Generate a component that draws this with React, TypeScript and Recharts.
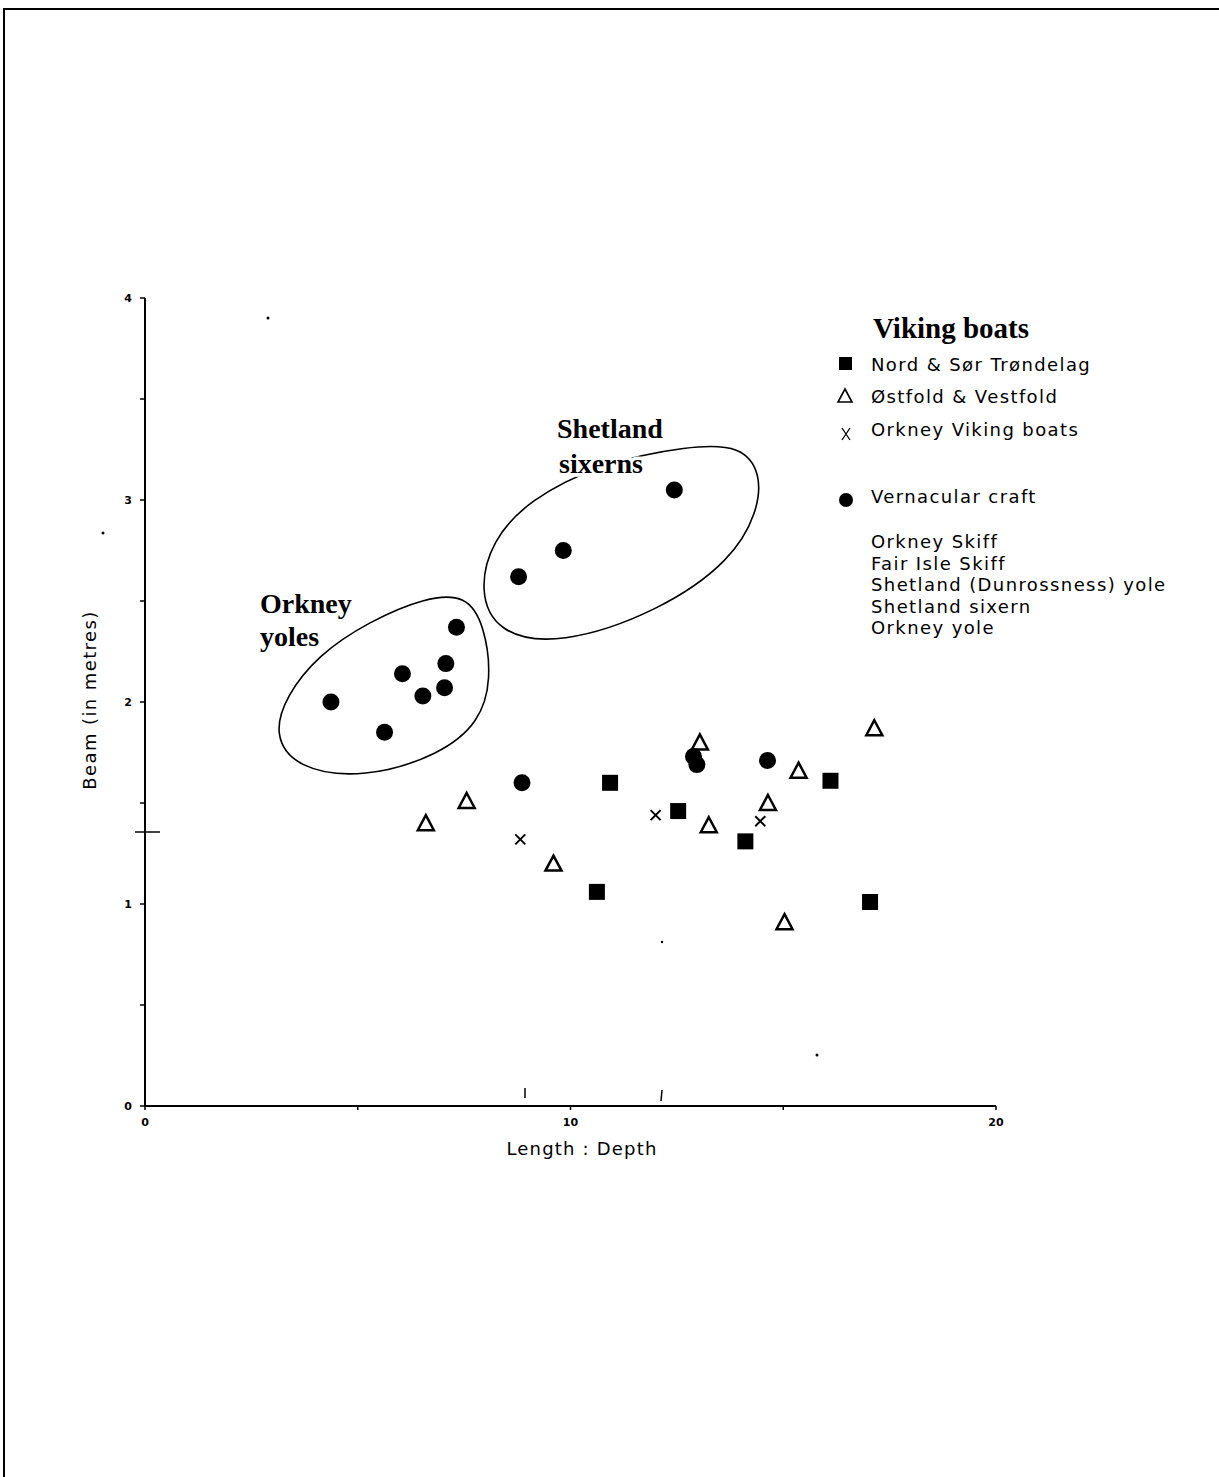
import { ComposedChart, Scatter, Line, XAxis, YAxis, Legend } from "recharts";

// Viking boats
const trondelag = [
  { x: 10.93, y: 1.6 },
  { x: 10.62, y: 1.06 },
  { x: 12.53, y: 1.46 },
  { x: 14.11, y: 1.31 },
  { x: 16.11, y: 1.61 },
  { x: 17.04, y: 1.01 },
];

const ostfold = [
  { x: 6.6, y: 1.4 },
  { x: 7.56, y: 1.51 },
  { x: 9.6, y: 1.2 },
  { x: 13.04, y: 1.8 },
  { x: 13.25, y: 1.39 },
  { x: 14.64, y: 1.5 },
  { x: 15.36, y: 1.66 },
  { x: 15.03, y: 0.91 },
  { x: 17.14, y: 1.87 },
];

const orkneyViking = [
  { x: 8.82, y: 1.32 },
  { x: 12.0, y: 1.44 },
  { x: 14.46, y: 1.41 },
];

// Vernacular craft
const vernacular = [
  { x: 4.37, y: 2.0 },
  { x: 5.63, y: 1.85 },
  { x: 6.05, y: 2.14 },
  { x: 6.53, y: 2.03 },
  { x: 7.04, y: 2.07 },
  { x: 7.07, y: 2.19 },
  { x: 7.32, y: 2.37 },
  { x: 8.78, y: 2.62 },
  { x: 9.83, y: 2.75 },
  { x: 12.44, y: 3.05 },
  { x: 8.86, y: 1.6 },
  { x: 12.89, y: 1.73 },
  { x: 12.97, y: 1.69 },
  { x: 14.63, y: 1.71 },
];

const vernacularTypes = [
  "Orkney Skiff",
  "Fair Isle Skiff",
  "Shetland (Dunrossness) yole",
  "Shetland sixern",
  "Orkney yole",
];

// hand drawn group outlines
const orkneyOutline = [
  { x: 6.61, y: 2.52 },
  { x: 7.55, y: 2.53 },
  { x: 7.98, y: 2.38 },
  { x: 8.15, y: 2.11 },
  { x: 7.86, y: 1.9 },
  { x: 6.95, y: 1.74 },
  { x: 5.15, y: 1.62 },
  { x: 3.55, y: 1.67 },
  { x: 3.02, y: 1.84 },
  { x: 3.32, y: 2.03 },
  { x: 4.05, y: 2.23 },
  { x: 5.27, y: 2.4 },
];

const shetlandOutline = [
  { x: 12.8, y: 3.27 },
  { x: 14.02, y: 3.27 },
  { x: 14.48, y: 3.13 },
  { x: 14.4, y: 2.94 },
  { x: 13.78, y: 2.7 },
  { x: 12.1, y: 2.45 },
  { x: 9.74, y: 2.28 },
  { x: 8.27, y: 2.34 },
  { x: 7.85, y: 2.55 },
  { x: 8.15, y: 2.8 },
  { x: 9.02, y: 3.0 },
  { x: 10.68, y: 3.18 },
];

const xTicks = [0, 5, 10, 15, 20];
const yTicks = [0, 0.5, 1, 1.5, 2, 2.5, 3, 3.5, 4];

const sans = "'DejaVu Sans', sans-serif";
const serif = "'Liberation Serif', serif";

const Square = (p: any) => (
  <rect x={p.cx - 8} y={p.cy - 8} width={16} height={16} fill="#000" />
);
const Triangle = (p: any) => (
  <polygon
    points={`${p.cx},${p.cy - 8} ${p.cx + 8},${p.cy + 7} ${p.cx - 8},${p.cy + 7}`}
    fill="#fff"
    stroke="#000"
    strokeWidth={2.5}
  />
);
const Cross = (p: any) => (
  <path
    d={`M${p.cx - 5},${p.cy - 5}L${p.cx + 5},${p.cy + 5}M${p.cx + 5},${p.cy - 5}L${p.cx - 5},${p.cy + 5}`}
    stroke="#000"
    strokeWidth={2}
  />
);
const Dot = (p: any) => <circle cx={p.cx} cy={p.cy} r={8.5} fill="#000" />;

const itemText = { fontFamily: sans, fontSize: 18, letterSpacing: 1.4 };

const LegendBox = () => {
  const rows = [
    { name: "Nord & Sør Trøndelag", y: 371, mark: <rect x={9} y={357} width={13} height={13} fill="#000" /> },
    { name: "Østfold & Vestfold", y: 403, mark: <polygon points="15,389 22,402 8,402" fill="none" stroke="#000" strokeWidth={1.6} /> },
    { name: "Orkney Viking boats", y: 436, mark: <path d="M12,428L20,440M20,428L12,440" stroke="#000" strokeWidth={1.3} /> },
    { name: "Vernacular craft", y: 503, mark: <circle cx={16} cy={500} r={7} fill="#000" /> },
  ];
  return (
    <svg width={390} height={360} viewBox="830 300 390 360" style={{ display: "block" }}>
      <g transform="translate(830,0)">
        <text x={43} y={338} fontFamily={serif} fontWeight="bold" fontSize={29}>
          Viking boats
        </text>
        {rows.map((r) => (
          <g key={r.name}>
            {r.mark}
            <text x={41} y={r.y} {...itemText}>
              {r.name}
            </text>
          </g>
        ))}
        {vernacularTypes.map((t, i) => (
          <text key={t} x={41} y={548 + i * 21.5} {...itemText}>
            {t}
          </text>
        ))}
      </g>
    </svg>
  );
};

export default function App() {
  return (
    <div
      style={{
        position: "absolute",
        left: 0,
        top: 0,
        width: 1219,
        height: 1477,
        background: "#fff",
        overflow: "hidden",
      }}
    >
      {/* page frame */}
      <div
        style={{
          position: "absolute",
          left: 3,
          top: 8,
          width: 1230,
          height: 1480,
          borderTop: "2px solid #000",
          borderLeft: "2px solid #000",
        }}
      />
      <ComposedChart
        width={1219}
        height={1477}
        margin={{ top: 298, right: 223, bottom: 341, left: 100 }}
      >
        <XAxis
          type="number"
          dataKey="x"
          domain={[0, 20]}
          ticks={xTicks}
          tickFormatter={(v: number) => (v % 10 === 0 ? String(v) : "")}
          height={30}
          tickSize={4}
          tickMargin={8}
          axisLine={{ stroke: "#000", strokeWidth: 2 }}
          tickLine={{ stroke: "#000", strokeWidth: 1.5 }}
          tick={{ fill: "#000", fontSize: 11, fontFamily: sans, fontWeight: 700 }}
          allowDataOverflow
        />
        <YAxis
          type="number"
          dataKey="y"
          domain={[0, 4]}
          ticks={yTicks}
          tickFormatter={(v: number) => (Number.isInteger(v) ? String(v) : "")}
          width={45}
          tickSize={5}
          tickMargin={8}
          axisLine={{ stroke: "#000", strokeWidth: 2 }}
          tickLine={{ stroke: "#000", strokeWidth: 1.5 }}
          tick={{ fill: "#000", fontSize: 11, fontFamily: sans, fontWeight: 700 }}
          allowDataOverflow
        />
        <Line
          data={orkneyOutline}
          dataKey="y"
          type="basisClosed"
          stroke="#000"
          strokeWidth={1.6}
          dot={false}
          activeDot={false}
          legendType="none"
          isAnimationActive={false}
        />
        <Line
          data={shetlandOutline}
          dataKey="y"
          type="basisClosed"
          stroke="#000"
          strokeWidth={1.6}
          dot={false}
          activeDot={false}
          legendType="none"
          isAnimationActive={false}
        />
        <Scatter name="Nord & Sør Trøndelag" data={trondelag} shape={Square} isAnimationActive={false} />
        <Scatter name="Østfold & Vestfold" data={ostfold} shape={Triangle} isAnimationActive={false} />
        <Scatter name="Orkney Viking boats" data={orkneyViking} shape={Cross} isAnimationActive={false} />
        <Scatter name="Vernacular craft" data={vernacular} shape={Dot} isAnimationActive={false} />
        <Legend
          layout="vertical"
          align="center"
          verticalAlign="middle"
          content={() => <LegendBox />}
          wrapperStyle={{ position: "absolute", left: 830, top: 300, width: 390, height: 360 }}
        />
      </ComposedChart>
      {/* annotations and axis titles */}
      <svg
        width={1219}
        height={1477}
        style={{ position: "absolute", left: 0, top: 0, pointerEvents: "none" }}
      >
        <g
          fontFamily={serif}
          fontWeight="bold"
          fontSize={28}
          fill="#000"
          stroke="#fff"
          strokeWidth={7}
          style={{ paintOrder: "stroke" }}
        >
          <text x={260} y={613}>Orkney</text>
          <text x={260} y={646}>yoles</text>
          <text x={557} y={438}>Shetland</text>
          <text x={559} y={473}>sixerns</text>
        </g>
        <text x={582} y={1155} textAnchor="middle" {...itemText} letterSpacing={1.2} fill="#000">
          Length : Depth
        </text>
        <text
          x={96}
          y={700}
          textAnchor="middle"
          {...itemText}
          fill="#000"
          transform="rotate(-90 96 700)"
        >
          Beam (in metres)
        </text>
        {/* scan specks */}
        <line x1={135} y1={832} x2={160} y2={832} stroke="#000" strokeWidth={1.5} />
        <line x1={525} y1={1088} x2={525} y2={1098} stroke="#000" strokeWidth={1.5} />
        <line x1={662} y1={1090} x2={661} y2={1101} stroke="#000" strokeWidth={1.5} />
        <circle cx={268} cy={318} r={1.5} fill="#000" />
        <circle cx={103} cy={533} r={1.5} fill="#000" />
        <circle cx={662} cy={942} r={1.2} fill="#000" />
        <circle cx={817} cy={1055} r={1.5} fill="#000" />
      </svg>
    </div>
  );
}
